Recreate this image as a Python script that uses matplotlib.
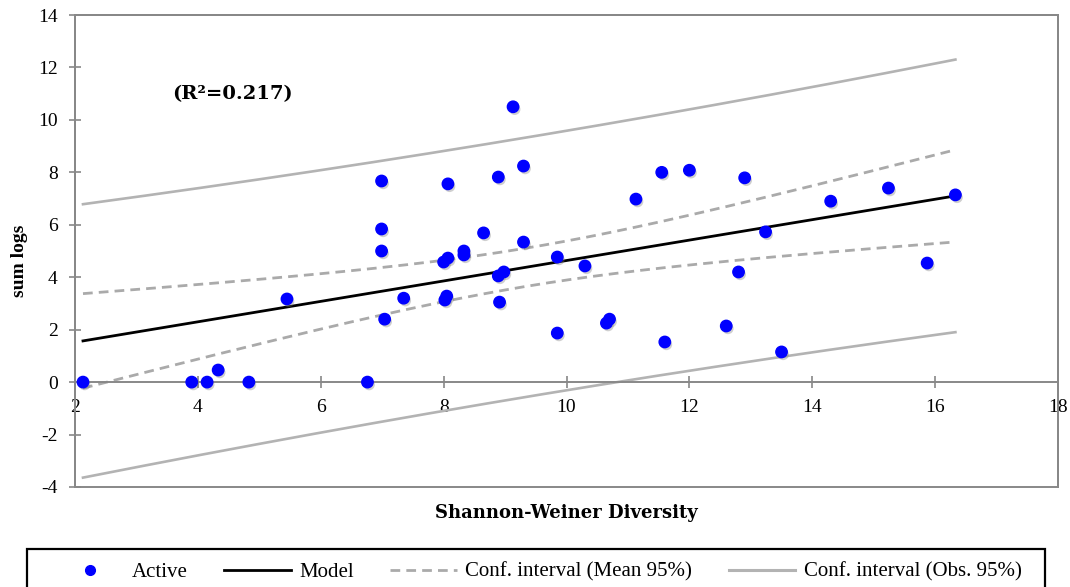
import numpy as np
import matplotlib
matplotlib.use("Agg")
import matplotlib.pyplot as plt
import matplotlib.patheffects as pe
from matplotlib.lines import Line2D
from matplotlib.patches import Rectangle

# ---- data ----
diversity = [2.13, 3.90, 4.15, 4.33, 4.83, 5.45, 6.76, 6.99, 6.99, 6.99,
             7.04, 7.35, 8.00, 8.07, 8.07, 8.02, 8.05, 8.33, 8.33, 8.65,
             8.89, 8.89, 8.98, 8.91, 9.13, 9.30, 9.30, 9.85, 9.85, 10.30,
             10.65, 10.70, 11.13, 11.55, 11.60, 12.00, 12.60, 12.80, 12.90, 13.24,
             13.50, 14.30, 15.24, 15.87, 16.33]
sum_logs = [0.00, 0.00, 0.00, 0.46, 0.00, 3.17, 0.00, 7.67, 5.84, 5.00,
            2.40, 3.20, 4.58, 4.73, 7.56, 3.13, 3.28, 5.00, 4.85, 5.69,
            7.82, 4.05, 4.20, 3.05, 10.50, 8.24, 5.34, 4.77, 1.87, 4.43,
            2.25, 2.40, 6.98, 8.00, 1.53, 8.08, 2.14, 4.20, 7.79, 5.73,
            1.15, 6.90, 7.40, 4.54, 7.14]
x_ticks = [2, 4, 6, 8, 10, 12, 14, 16, 18]
y_ticks = [-4, -2, 0, 2, 4, 6, 8, 10, 12, 14]
r2_label = "(R²=0.217)"
legend_labels = ["Active", "Model", "Conf. interval (Mean 95%)", "Conf. interval (Obs. 95%)"]
t_crit = 2.0167  # Student t, 43 df, 95%

x = np.array(diversity)
y = np.array(sum_logs)
n = len(x)
b1, b0 = np.polyfit(x, y, 1)
resid = y - (b0 + b1 * x)
s = np.sqrt(np.sum(resid ** 2) / (n - 2))
xs = np.linspace(x.min(), x.max(), 200)
ys = b0 + b1 * xs
sxx = np.sum((x - x.mean()) ** 2)
se_mean = s * np.sqrt(1 / n + (xs - x.mean()) ** 2 / sxx)
se_obs = s * np.sqrt(1 + 1 / n + (xs - x.mean()) ** 2 / sxx)

serif = ["Liberation Serif", "DejaVu Serif"]
wide_serif = ["DejaVu Serif", "Liberation Serif"]
plt.rcParams["font.family"] = serif
plt.rcParams["axes.unicode_minus"] = False

fig = plt.figure(figsize=(10.70, 5.87), dpi=100)
ax = fig.add_axes([0.0701, 0.1704, 0.9187, 0.8040])

frame_c = "#888888"
obs_c = "#B3B3B3"
mean_c = "#AAAAAA"
dash = (0, (3.5, 2.2))
shadow = [pe.SimplePatchShadow(offset=(1.2, -1.8), shadow_rgbFace="#777777", alpha=0.35), pe.Normal()]

ax.plot(xs, ys + t_crit * se_obs, color=obs_c, lw=1.9, zorder=2)
ax.plot(xs, ys - t_crit * se_obs, color=obs_c, lw=1.9, zorder=2)
ax.plot(xs, ys + t_crit * se_mean, color=mean_c, lw=2.0, ls=dash, zorder=2)
ax.plot(xs, ys - t_crit * se_mean, color=mean_c, lw=2.0, ls=dash, zorder=2)
ax.plot(xs, ys, color="black", lw=2.0, zorder=3)
ax.plot(x, y, ls="none", marker="o", ms=8.2, color="#0000FF", mec="#0000FF",
        zorder=4, path_effects=shadow, clip_on=False)

ax.set_xlim(2, 18)
ax.set_ylim(-4, 14)
ax.set_xticks(x_ticks)
ax.set_yticks(y_ticks)

for side in ["top", "right", "left", "bottom"]:
    ax.spines[side].set_color(frame_c)
    ax.spines[side].set_linewidth(1.4)
ax.spines["bottom"].set_position(("data", 0))
ax.patch.set_edgecolor(frame_c)
ax.patch.set_linewidth(1.4)

ax.tick_params(axis="y", direction="inout", length=9, width=1.2, color=frame_c,
               labelsize=14, pad=8)
ax.tick_params(axis="x", direction="inout", length=9, width=1.2, color=frame_c,
               labelsize=14, pad=8)

ax.set_ylabel("sum logs", fontsize=14, fontweight="bold")
ax.yaxis.set_label_coords(-0.048, 0.48)
ax.text(0.5, -0.037, "Shannon-Weiner Diversity", transform=ax.transAxes,
        ha="center", va="top", fontsize=13, fontweight="bold", family=wide_serif)
ax.text(3.58, 11.0, r2_label, fontsize=14, fontweight="bold", va="center", ha="left",
        family=wide_serif)

# legend
handles = [
    Line2D([], [], ls="none", marker="o", ms=7, color="#0000FF"),
    Line2D([], [], color="black", lw=2.0),
    Line2D([], [], color=mean_c, lw=2.0, ls=dash),
    Line2D([], [], color=obs_c, lw=2.2),
]
leg = fig.legend(handles, legend_labels, loc="center left", ncol=4,
                 bbox_to_anchor=(57 / 1070, 1 - 572 / 587),
                 frameon=False, fontsize=15, handlelength=3.2,
                 columnspacing=1.75, handletextpad=0.4, borderpad=0, borderaxespad=0)
fig.patches.append(Rectangle((27 / 1070, -0.1), (1045 - 27) / 1070, (587 - 549) / 587 + 0.1,
                             transform=fig.transFigure, fill=False, ec="black", lw=1.6))

fig.savefig("out.png", dpi=100)
